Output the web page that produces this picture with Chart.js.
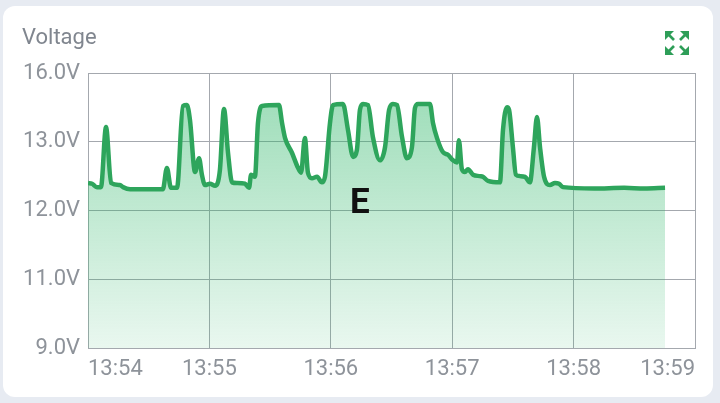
<!DOCTYPE html>
<html>
<head>
<meta charset="utf-8">
<script src="https://cdn.jsdelivr.net/npm/chart.js@4.4.1/dist/chart.umd.min.js"></script>
<style>
    html, body { margin: 0; padding: 0; background: #e7ebf2; }
    #cartao {
        position: absolute; left: 3px; top: 6px; width: 710px; height: 391px;
        background: #ffffff; border-radius: 12px;
    }
    #wrap { position: absolute; left: 0; top: 0; width: 720px; height: 403px; }
    #titulo {
        position: absolute; left: 22px; top: 26px;
        font: 400 22px Roboto, sans-serif; line-height: 22px; color: #80868f;
    }
    #marca {
        position: absolute; left: 350px; top: 184px;
        font: 700 35px Roboto, sans-serif; line-height: 35px; color: #111;
    }
    #icone { position: absolute; left: 665px; top: 31px; }
</style>
</head>
<body>
<div id="cartao"></div>
<div id="wrap"><canvas id="grafico"></canvas></div>
<div id="titulo">Voltage</div>
<div id="marca">E</div>
<svg id="icone" width="24" height="24" viewBox="0 0 24 24" fill="#2e9e58" stroke="#2e9e58" stroke-width="2.6">
    <polygon points="0,0 9,0 0,9" stroke="none"/><line x1="3" y1="3" x2="9" y2="9"/>
    <polygon points="24,0 15,0 24,9" stroke="none"/><line x1="21" y1="3" x2="15" y2="9"/>
    <polygon points="0,24 9,24 0,15" stroke="none"/><line x1="3" y1="21" x2="9" y2="15"/>
    <polygon points="24,24 15,24 24,15" stroke="none"/><line x1="21" y1="21" x2="15" y2="15"/>
</svg>
<script>
// segundos depois de 13:54:00
const segundos = [
    0, 2, 4.4, 6.4, 8.9, 11.4, 15.8, 17.3, 20.8, 29, 37, 39, 41, 44,
    46.9, 48.9, 50.4, 52.9, 54.9, 56.3, 57.8, 60.3, 62.8, 65.2, 67.2, 69.2,
    71.2, 73.6, 77.6, 79.6, 80.6, 82.5, 84, 86, 94.4, 95.9, 97.4, 100.8,
    103.8, 105.3, 107.2, 108.7, 110.7, 113.2, 115.6, 117.1, 119.6, 121.1,
    126, 128.5, 131, 132.9, 134.4, 135.9, 138.4, 140.8, 144.3, 146.8, 148.8,
    150.7, 152.7, 155.2, 157.6, 160.1, 161.6, 163.1, 169, 170.5, 172.5,
    175.4, 177.9, 180.4, 182.4, 183.3, 184.8, 186.3, 187.8, 190.3, 193.7,
    195.2, 197.7, 203.6, 205.1, 207.1, 208.1, 210, 211.5, 213.5, 216, 218.4,
    220.4, 221.9, 223.4, 225.4, 228.3, 230.8, 232.8, 234.7, 250, 265, 275, 285.2
];
const tensoes = [
    12.40, 12.39, 12.34, 12.34, 13.64, 12.40, 12.37, 12.34, 12.31, 12.31, 12.31, 12.62, 12.33, 12.33,
    14.56, 14.60, 13.95, 12.56, 12.76, 12.52, 12.37, 12.39, 12.36, 12.59, 14.43, 12.84,
    12.41, 12.40, 12.39, 12.33, 12.52, 12.49, 13.82, 14.56, 14.60, 13.82, 13.16, 12.84,
    12.62, 12.55, 13.16, 12.55, 12.47, 12.49, 12.41, 12.49, 13.82, 14.60,
    14.65, 13.51, 12.78, 12.88, 14.39, 14.65, 14.60, 13.21, 12.73, 12.92, 14.39,
    14.65, 14.60, 13.21, 12.76, 12.92, 14.47, 14.65, 14.65, 13.82, 13.16,
    12.85, 12.81, 12.73, 12.70, 13.07, 12.60, 12.56, 12.60, 12.52, 12.50,
    12.49, 12.43, 12.41, 13.51, 14.51, 14.39, 12.92, 12.52, 12.50, 12.49, 12.41,
    12.92, 14.08, 12.92, 12.49, 12.37, 12.40, 12.39, 12.34, 12.32, 12.33, 12.32, 12.33
];
const ticksY = [9, 11, 12, 13, 16];
const ticksX = ['13:54', '13:55', '13:56', '13:57', '13:58', '13:59'];

const verde = '#2ea55c';
const fonte = 'Roboto, sans-serif';
const cinza = '#8e939a';

// Escala em partes: as linhas de grade ficam igualmente espaçadas
function paraDecimal(v) {
    const n = ticksY.length - 1;
    if (v <= ticksY[0]) return 0;
    for (let i = 0; i < n; i++) {
        if (v <= ticksY[i + 1]) {
            return (i + (v - ticksY[i]) / (ticksY[i + 1] - ticksY[i])) / n;
        }
    }
    return 1;
}
function deDecimal(d) {
    const n = ticksY.length - 1;
    const p = Math.max(0, Math.min(n - 1e-9, d * n));
    const i = Math.floor(p);
    return ticksY[i] + (p - i) * (ticksY[i + 1] - ticksY[i]);
}

class EscalaPartes extends Chart.LinearScale {
    buildTicks() {
        return ticksY.map(v => ({ value: v }));
    }
    getPixelForValue(value) {
        return this.getPixelForDecimal(paraDecimal(value));
    }
    getValueForPixel(pixel) {
        return deDecimal(this.getDecimalForPixel(pixel));
    }
}
EscalaPartes.id = 'partes';
Chart.register(EscalaPartes);

const pontos = segundos.map((s, i) => ({ x: s, y: tensoes[i] }));

const ctx = document.getElementById('grafico');
new Chart(ctx, {
    type: 'line',
    data: {
        datasets: [{
            data: pontos,
            borderColor: verde,
            borderWidth: 4.5,
            pointRadius: 0,
            cubicInterpolationMode: 'monotone',
            fill: 'start',
            backgroundColor: function(context) {
                const area = context.chart.chartArea;
                if (!area) return 'rgba(46,165,92,0.3)';
                const g = context.chart.ctx.createLinearGradient(0, area.top, 0, area.bottom);
                g.addColorStop(0, 'rgba(40,180,100,0.48)');
                g.addColorStop(1, 'rgba(40,180,100,0.10)');
                return g;
            }
        }]
    },
    options: {
        responsive: true,
        maintainAspectRatio: false,
        animation: false,
        layout: { padding: { left: 0, right: 25, top: 73, bottom: 25 } },
        plugins: {
            legend: { display: false },
            tooltip: { enabled: false }
        },
        scales: {
            x: {
                type: 'linear',
                min: 0,
                max: 300,
                afterBuildTicks: function(scale) {
                    scale.ticks = ticksX.map((t, i) => ({ value: i * 60 }));
                },
                afterFit: function(scale) { scale.height = 30; },
                ticks: {
                    align: 'inner',
                    maxRotation: 0,
                    padding: 8,
                    color: cinza,
                    font: { family: fonte, size: 22 },
                    callback: function(value) {
                        return ticksX[Math.round(value / 60)];
                    }
                },
                grid: { color: '#a4a8ae', drawTicks: false },
                border: { color: '#a4a8ae' }
            },
            y: {
                type: 'partes',
                min: 9,
                max: 16,
                afterFit: function(scale) { scale.width = 88; },
                ticks: {
                    padding: 8,
                    color: cinza,
                    font: { family: fonte, size: 22 },
                    callback: function(value) {
                        return value.toFixed(1) + 'V';
                    }
                },
                grid: { color: '#a4a8ae', drawTicks: false },
                border: { color: '#a4a8ae' }
            }
        }
    }
});
</script>
</body>
</html>
